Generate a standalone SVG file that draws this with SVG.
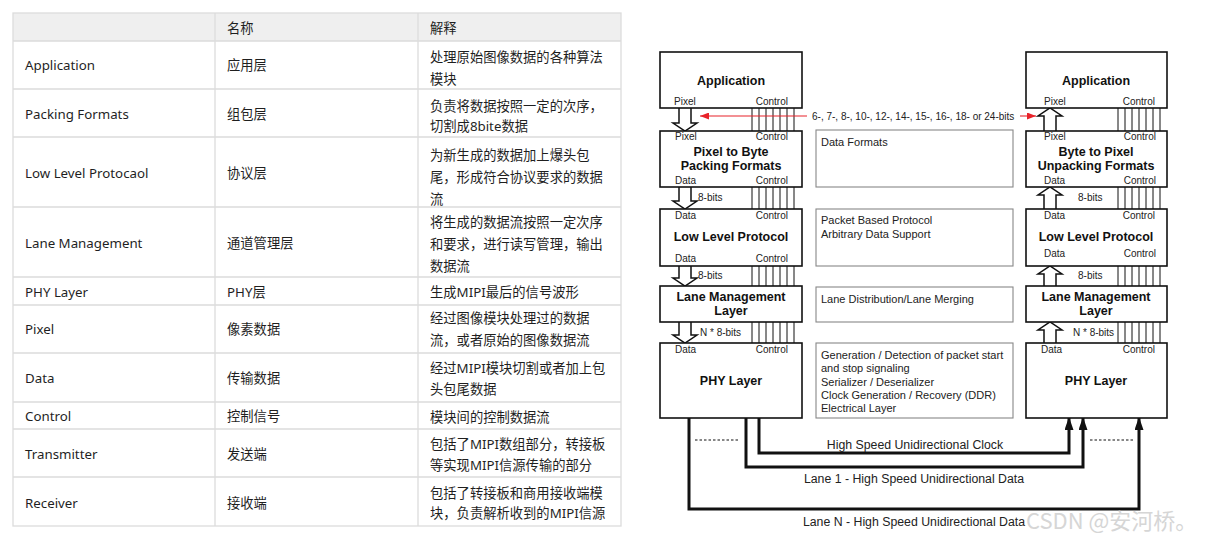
<svg xmlns="http://www.w3.org/2000/svg" width="1210" height="539" viewBox="0 0 1210 539">
<defs>
<style>
.tb{font-family:"Noto Sans","Noto Sans CJK SC",sans-serif;font-size:13.3px;fill:#1f1f1f}
.grid{stroke:#dcdcdc;stroke-width:1.3;fill:none}
.box{fill:#fff;stroke:#111;stroke-width:1.6}
.dbox{fill:#fff;stroke:#888;stroke-width:1.1}
.sm{font-family:"Liberation Sans",Arial,sans-serif;font-size:10px;fill:#222}
.bt{font-family:"Liberation Sans",Arial,sans-serif;font-size:12.5px;font-weight:bold;fill:#111;text-anchor:middle}
.ds{font-family:"Liberation Sans",Arial,sans-serif;font-size:11px;fill:#222}
.lb{font-family:"Liberation Sans",Arial,sans-serif;font-size:12.3px;fill:#222;text-anchor:middle}
.hol{fill:#fff;stroke:#111;stroke-width:1.5;stroke-linejoin:miter}
.ctl{stroke:#111;stroke-width:1}
.wire{fill:none;stroke:#111;stroke-width:3;stroke-linejoin:miter}
.dot{stroke:#111;stroke-width:1.2;stroke-dasharray:2.5 2}
.end{text-anchor:end}
</style>
<marker id="ah" markerUnits="userSpaceOnUse" viewBox="0 0 13 9" markerWidth="13" markerHeight="9" refX="12" refY="4.5" orient="auto"><path d="M0,0 L13,4.5 L0,9 z" fill="#111"/></marker>
<marker id="ra" markerUnits="userSpaceOnUse" viewBox="0 0 9 7" markerWidth="9" markerHeight="7" refX="9" refY="3.5" orient="auto"><path d="M0,0 L9,3.5 L0,7 z" fill="#e8232a"/></marker>
</defs>
<rect width="1210" height="539" fill="#fff"/>

<!-- TABLE -->
<g id="table">
<rect x="13" y="13" width="608" height="28" fill="#efefef"/>
<rect x="13" y="13" width="608" height="513" class="grid"/>
<path class="grid" d="M215,13V526 M418,13V526 M13,41H621 M13,89H621 M13,137H621 M13,207H621 M13,277H621 M13,305H621 M13,353H621 M13,402H621 M13,429H621 M13,477H621"/>
<g class="tb">
<text x="227" y="33">名称</text><text x="430" y="33">解释</text>
<text x="25" y="70">Application</text><text x="227" y="70">应用层</text>
<text x="430" y="62">处理原始图像数据的各种算法</text><text x="430" y="83.5">模块</text>
<text x="25" y="119">Packing Formats</text><text x="227" y="119">组包层</text>
<text x="430" y="110.5">负责将数据按照一定的次序，</text><text x="430" y="131">切割成8bite数据</text>
<text x="25" y="178">Low Level Protocaol</text><text x="227" y="178">协议层</text>
<text x="430" y="159.5">为新生成的数据加上爆头包</text><text x="430" y="181.5">尾，形成符合协议要求的数据</text><text x="430" y="203.5">流</text>
<text x="25" y="248">Lane Management</text><text x="227" y="248">通道管理层</text>
<text x="430" y="227">将生成的数据流按照一定次序</text><text x="430" y="249">和要求，进行读写管理，输出</text><text x="430" y="270.5">数据流</text>
<text x="25" y="296.5">PHY Layer</text><text x="227" y="296.5">PHY层</text>
<text x="430" y="297">生成MIPI最后的信号波形</text>
<text x="25" y="334">Pixel</text><text x="227" y="334">像素数据</text>
<text x="430" y="323.3">经过图像模块处理过的数据</text><text x="430" y="345">流，或者原始的图像数据流</text>
<text x="25" y="382.5">Data</text><text x="227" y="382.5">传输数据</text>
<text x="430" y="373.3">经过MIPI模块切割或者加上包</text><text x="430" y="394.3">头包尾数据</text>
<text x="25" y="420.5">Control</text><text x="227" y="420.5">控制信号</text>
<text x="430" y="421.7">模块间的控制数据流</text>
<text x="25" y="459">Transmitter</text><text x="227" y="459">发送端</text>
<text x="430" y="449.3">包括了MIPI数组部分，转接板</text><text x="430" y="470">等实现MIPI信源传输的部分</text>
<text x="25" y="507.5">Receiver</text><text x="227" y="507.5">接收端</text>
<text x="430" y="497.7">包括了转接板和商用接收端模</text><text x="430" y="518.3">块，负责解析收到的MIPI信源</text>
</g>
</g>

<!-- CONNECTORS -->
<g id="connectors">
<path class="hol" d="M679,108 V123 H673 L685,131 L697,123 H691 V108"/>
<path class="hol" d="M679,187 V201 H673 L685,209 L697,201 H691 V187"/>
<path class="hol" d="M679,266 V278 H673 L685,286 L697,278 H691 V266"/>
<path class="hol" d="M679,322 V335 H673 L685,343 L697,335 H691 V322"/>
<path class="hol" d="M1044,131 V116 H1038 L1050,108 L1062,116 H1056 V131"/>
<path class="hol" d="M1044,209 V195 H1038 L1050,187 L1062,195 H1056 V209"/>
<path class="hol" d="M1044,286 V274 H1038 L1050,266 L1062,274 H1056 V286"/>
<path class="hol" d="M1044,343 V330 H1038 L1050,322 L1062,330 H1056 V343"/>
<path class="ctl" d="M752,108V131 M759,108V131 M766,108V131 M773,108V131 M780,108V131 M787,108V131 M794,108V131
M752,187V209 M759,187V209 M766,187V209 M773,187V209 M780,187V209 M787,187V209 M794,187V209
M752,266V286 M759,266V286 M766,266V286 M773,266V286 M780,266V286 M787,266V286 M794,266V286
M752,322V343 M759,322V343 M766,322V343 M773,322V343 M780,322V343 M787,322V343 M794,322V343
M1118,108V131 M1125,108V131 M1132,108V131 M1139,108V131 M1146,108V131 M1153,108V131 M1160,108V131
M1118,187V209 M1125,187V209 M1132,187V209 M1139,187V209 M1146,187V209 M1153,187V209 M1160,187V209
M1118,266V286 M1125,266V286 M1132,266V286 M1139,266V286 M1146,266V286 M1153,266V286 M1160,266V286
M1118,322V343 M1125,322V343 M1132,322V343 M1139,322V343 M1146,322V343 M1153,322V343 M1160,322V343"/>
<line x1="807" y1="116" x2="700" y2="116" stroke="#e8232a" stroke-width="1.1" marker-end="url(#ra)"/>
<line x1="1020" y1="116" x2="1036" y2="116" stroke="#e8232a" stroke-width="1.1" marker-end="url(#ra)"/>
<text class="sm" x="812" y="119.5">6-, 7-, 8-, 10-, 12-, 14-, 15-, 16-, 18- or 24-bits</text>
<text class="sm" x="698" y="200.5">8-bits</text>
<text class="sm" x="698" y="279">8-bits</text>
<text class="sm" x="700" y="336">N * 8-bits</text>
<text class="sm" x="1078" y="200.5">8-bits</text>
<text class="sm" x="1078" y="279">8-bits</text>
<text class="sm" x="1073" y="336">N * 8-bits</text>
<polyline class="wire" points="759,418 759,453 1069,453 1069,418" marker-end="url(#ah)"/>
<polyline class="wire" points="746,418 746,467 1083,467 1083,418" marker-end="url(#ah)"/>
<polyline class="wire" points="689,418 689,509 1139,509 1139,418" marker-end="url(#ah)"/>
<line class="dot" x1="695" y1="440" x2="738" y2="440"/>
<line class="dot" x1="1090" y1="440" x2="1133" y2="440"/>
<text class="lb" x="915" y="448.5">High Speed Unidirectional Clock</text>
<text class="lb" x="914" y="483">Lane 1 - High Speed Unidirectional Data</text>
<text class="lb" x="914" y="526">Lane N - High Speed Unidirectional Data</text>
</g>

<!-- LEFT STACK -->
<g id="tx-app">
<rect class="box" x="660" y="52" width="142" height="56"/>
<text class="bt" x="731" y="84.5">Application</text>
<text class="sm" x="674" y="105">Pixel</text><text class="sm end" x="788" y="105">Control</text>
</g>
<g id="tx-pack">
<rect class="box" x="660" y="131" width="142" height="56"/>
<text class="sm" x="675" y="140">Pixel</text><text class="sm end" x="788" y="140">Control</text>
<text class="bt" x="731" y="155.5">Pixel to Byte</text>
<text class="bt" x="731" y="169.5">Packing Formats</text>
<text class="sm" x="675" y="183.5">Data</text><text class="sm end" x="788" y="183.5">Control</text>
</g>
<g id="tx-llp">
<rect class="box" x="660" y="209" width="142" height="57"/>
<text class="sm" x="675" y="219">Data</text><text class="sm end" x="788" y="219">Control</text>
<text class="bt" x="731" y="241">Low Level Protocol</text>
<text class="sm" x="675" y="262">Data</text><text class="sm end" x="788" y="262">Control</text>
</g>
<g id="tx-lane">
<rect class="box" x="660" y="286" width="142" height="36"/>
<text class="bt" x="731" y="301">Lane Management</text>
<text class="bt" x="731" y="315">Layer</text>
</g>
<g id="tx-phy">
<rect class="box" x="660" y="343" width="142" height="75"/>
<text class="sm" x="675" y="353">Data</text><text class="sm end" x="788" y="353">Control</text>
<text class="bt" x="731" y="384.5">PHY Layer</text>
</g>

<!-- DESCRIPTIONS -->
<g id="desc-formats">
<rect class="dbox" x="816" y="130" width="197" height="57"/>
<text class="ds" x="821" y="146">Data Formats</text>
</g>
<g id="desc-protocol">
<rect class="dbox" x="816" y="209" width="197" height="57"/>
<text class="ds" x="821" y="224">Packet Based Protocol</text>
<text class="ds" x="821" y="237.5">Arbitrary Data Support</text>
</g>
<g id="desc-lane">
<rect class="dbox" x="816" y="287" width="197" height="35"/>
<text class="ds" x="821" y="302.5">Lane Distribution/Lane Merging</text>
</g>
<g id="desc-phy">
<rect class="dbox" x="816" y="343" width="197" height="75"/>
<text class="ds" x="821" y="359">Generation / Detection of packet start</text>
<text class="ds" x="821" y="372.3">and stop signaling</text>
<text class="ds" x="821" y="385.6">Serializer / Deserializer</text>
<text class="ds" x="821" y="399">Clock Generation / Recovery (DDR)</text>
<text class="ds" x="821" y="412.3">Electrical Layer</text>
</g>

<!-- RIGHT STACK -->
<g id="rx-app">
<rect class="box" x="1026" y="52" width="141" height="56"/>
<text class="bt" x="1096" y="84.5">Application</text>
<text class="sm" x="1044" y="105">Pixel</text><text class="sm end" x="1155" y="105">Control</text>
</g>
<g id="rx-unpack">
<rect class="box" x="1026" y="131" width="141" height="56"/>
<text class="sm" x="1044" y="140">Pixel</text><text class="sm end" x="1156" y="140">Control</text>
<text class="bt" x="1096" y="155.5">Byte to Pixel</text>
<text class="bt" x="1096" y="169.5">Unpacking Formats</text>
<text class="sm" x="1044" y="183.5">Data</text><text class="sm end" x="1156" y="183.5">Control</text>
</g>
<g id="rx-llp">
<rect class="box" x="1026" y="209" width="141" height="57"/>
<text class="sm" x="1044" y="219">Data</text><text class="sm end" x="1155" y="219">Control</text>
<text class="bt" x="1096" y="241">Low Level Protocol</text>
<text class="sm" x="1044" y="257">Data</text><text class="sm end" x="1156" y="257">Control</text>
</g>
<g id="rx-lane">
<rect class="box" x="1026" y="286" width="141" height="36"/>
<text class="bt" x="1096" y="301">Lane Management</text>
<text class="bt" x="1096" y="315">Layer</text>
</g>
<g id="rx-phy">
<rect class="box" x="1026" y="343" width="141" height="75"/>
<text class="sm" x="1041" y="353">Data</text><text class="sm end" x="1155" y="353">Control</text>
<text class="bt" x="1096" y="384.5">PHY Layer</text>
</g>

<text x="1026" y="529" font-family="'Noto Sans CJK SC','Noto Sans',sans-serif" font-size="22" fill="#cfcfcf" opacity="0.85">CSDN @安河桥。</text>
</svg>
